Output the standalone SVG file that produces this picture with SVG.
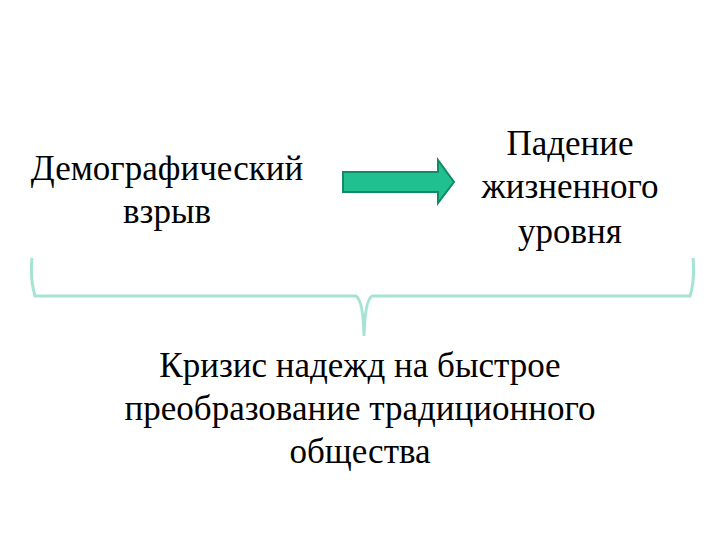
<svg xmlns="http://www.w3.org/2000/svg" width="720" height="540" viewBox="0 0 720 540">
<style>
text{font-size:35px;fill:#000;text-anchor:middle}
</style>
<rect width="720" height="540" fill="#fff"/>
<g font-family="Liberation Serif, Times New Roman, DejaVu Serif, serif">
<g id="node-demo"><text x="167" y="180">Демографический</text><text x="167" y="223">взрыв</text></g>
<g id="node-fall"><text x="570" y="155">Падение</text><text x="570" y="198">жизненного</text><text x="570" y="243">уровня</text></g>
<g id="node-crisis"><text x="360" y="377">Кризис надежд на быстрое</text><text x="360" y="420">преобразование традиционного</text><text x="360" y="463">общества</text></g>
</g>
<g id="connectors">
<path d="M343 172 H438 V160 L454 182 L438 203 V192 H343 Z" fill="#20c090" stroke="#118a66" stroke-width="2"/>
<path d="M32 258 Q30 280 35 296 H356 Q363 300 364 336 Q365 300 372 296 H690 Q695 280 693 258" fill="none" stroke="#a6e3d3" stroke-width="3"/>
</g>
</svg>
